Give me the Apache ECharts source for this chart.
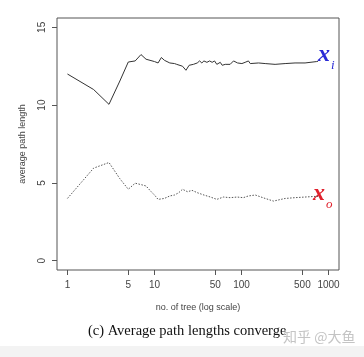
<!DOCTYPE html>
<html><head><meta charset="utf-8">
<script src="https://cdn.jsdelivr.net/npm/echarts@6/dist/echarts.min.js"></script>
<style>html,body{margin:0;padding:0;background:#fff}#c{width:364px;height:357px}</style>
</head><body><div id="c"></div>
<script>
// number of trees and average path length for x_i (upper) and x_o (lower)
const treesUpper = [1,2,3,4,5,6,7,8,10,11,12,13,15,17,18,21,23,25,28,31,33,35,37,40,43,46,49,52,57,60,65,74,81,90,101,110,120,126,157,187,243,317,412,537,731,757];
const pathUpper  = [12.0,11.0,10.05,11.55,12.77,12.84,13.25,12.95,12.8,12.71,13.06,12.88,12.71,12.67,12.62,12.5,12.24,12.56,12.62,12.71,12.84,12.71,12.84,12.75,12.84,12.75,12.84,12.62,12.75,12.56,12.62,12.62,12.84,12.71,12.67,12.75,12.84,12.67,12.71,12.67,12.62,12.67,12.71,12.71,12.8,12.82];
const treesLower = [1,2,3,4,5,6,7,8,9,10,11,13,15,17,19,21,24,27,31,37,44,52,62,74,89,105,120,144,187,233,317,412,537,699,757];
const pathLower  = [4.0,5.95,6.31,5.27,4.59,4.98,4.89,4.8,4.48,4.22,3.94,4.0,4.16,4.22,4.37,4.59,4.43,4.52,4.37,4.22,4.09,3.94,4.09,4.05,4.09,4.05,4.16,4.22,4.0,3.83,4.0,4.05,4.09,4.13,4.13];
const xTickLabels = [1,5,10,50,100,500,1000];
const yTickLabels = [0,5,10,15];

const L = Math.log10;
const chart = echarts.init(document.getElementById('c'));
const axisCol = '#555', txtCol = '#444';
chart.setOption({
  animation:false,
  grid:{left:57,right:25,top:18,bottom:87,show:true,borderColor:axisCol,borderWidth:1,backgroundColor:'transparent'},
  xAxis:{type:'value',min:-0.12,max:3.12,
    name:'no. of tree (log scale)',nameLocation:'middle',nameGap:33,
    nameTextStyle:{fontFamily:'Liberation Sans',fontSize:9,color:txtCol},
    axisLine:{show:false,onZero:false},splitLine:{show:false},
    axisTick:{show:true,inside:false,length:5,lineStyle:{color:axisCol},customValues:xTickLabels.map(L)},
    axisLabel:{fontFamily:'Liberation Sans',fontSize:10,color:txtCol,margin:10,
      customValues:xTickLabels.map(L),formatter:v=>String(Math.round(Math.pow(10,v)))}},
  yAxis:{type:'value',min:-0.6,max:15.6,
    name:'average path length',nameLocation:'middle',nameGap:30,
    nameTextStyle:{fontFamily:'Liberation Sans',fontSize:9,color:txtCol},
    axisLine:{show:false,onZero:false},splitLine:{show:false},
    axisTick:{show:true,inside:false,length:5,lineStyle:{color:axisCol},customValues:yTickLabels},
    axisLabel:{fontFamily:'Liberation Sans',fontSize:10,color:txtCol,margin:10,rotate:90,
      customValues:yTickLabels,formatter:v=>String(v)}},
  series:[
    {type:'line',data:treesUpper.map((n,i)=>[L(n),pathUpper[i]]),showSymbol:false,
      lineStyle:{color:'#333',width:1}},
    {type:'line',data:treesLower.map((n,i)=>[L(n),pathLower[i]]),showSymbol:false,
      lineStyle:{color:'#555',width:1,type:[1.5,1.5]}}
  ],
  graphic:[
    {type:'text',left:318,top:43,style:{rich:{
      x:{fontFamily:'Liberation Serif',fontStyle:'italic',fontWeight:'bold',fontSize:24,fill:'#2a2ad6'},
      s:{fontFamily:'Liberation Serif',fontStyle:'italic',fontSize:13,fill:'#2a2ad6',verticalAlign:'bottom',padding:[0,0,-5,1]}},
      text:'{x|x}{s|i}'}},
    {type:'text',left:313,top:182,style:{rich:{
      x:{fontFamily:'Liberation Serif',fontStyle:'italic',fontWeight:'bold',fontSize:24,fill:'#e0202c'},
      s:{fontFamily:'Liberation Serif',fontStyle:'italic',fontSize:13,fill:'#e0202c',verticalAlign:'bottom',padding:[0,0,-5,1]}},
      text:'{x|x}{s|o}'}},
    {type:'text',left:88,top:324,style:{text:'(c) Average path lengths converge',
      fontFamily:'Liberation Serif',fontSize:14.5,fill:'#111'}},
    {type:'text',left:283,top:330,style:{text:'知乎 @大鱼',fontFamily:'Noto Sans CJK SC',fontSize:14,fill:'#c4c4c4'}},
    {type:'rect',shape:{x:0,y:346,width:364,height:11},style:{fill:'#f3f3f3'},z:-1}
  ]
});
</script></body></html>
